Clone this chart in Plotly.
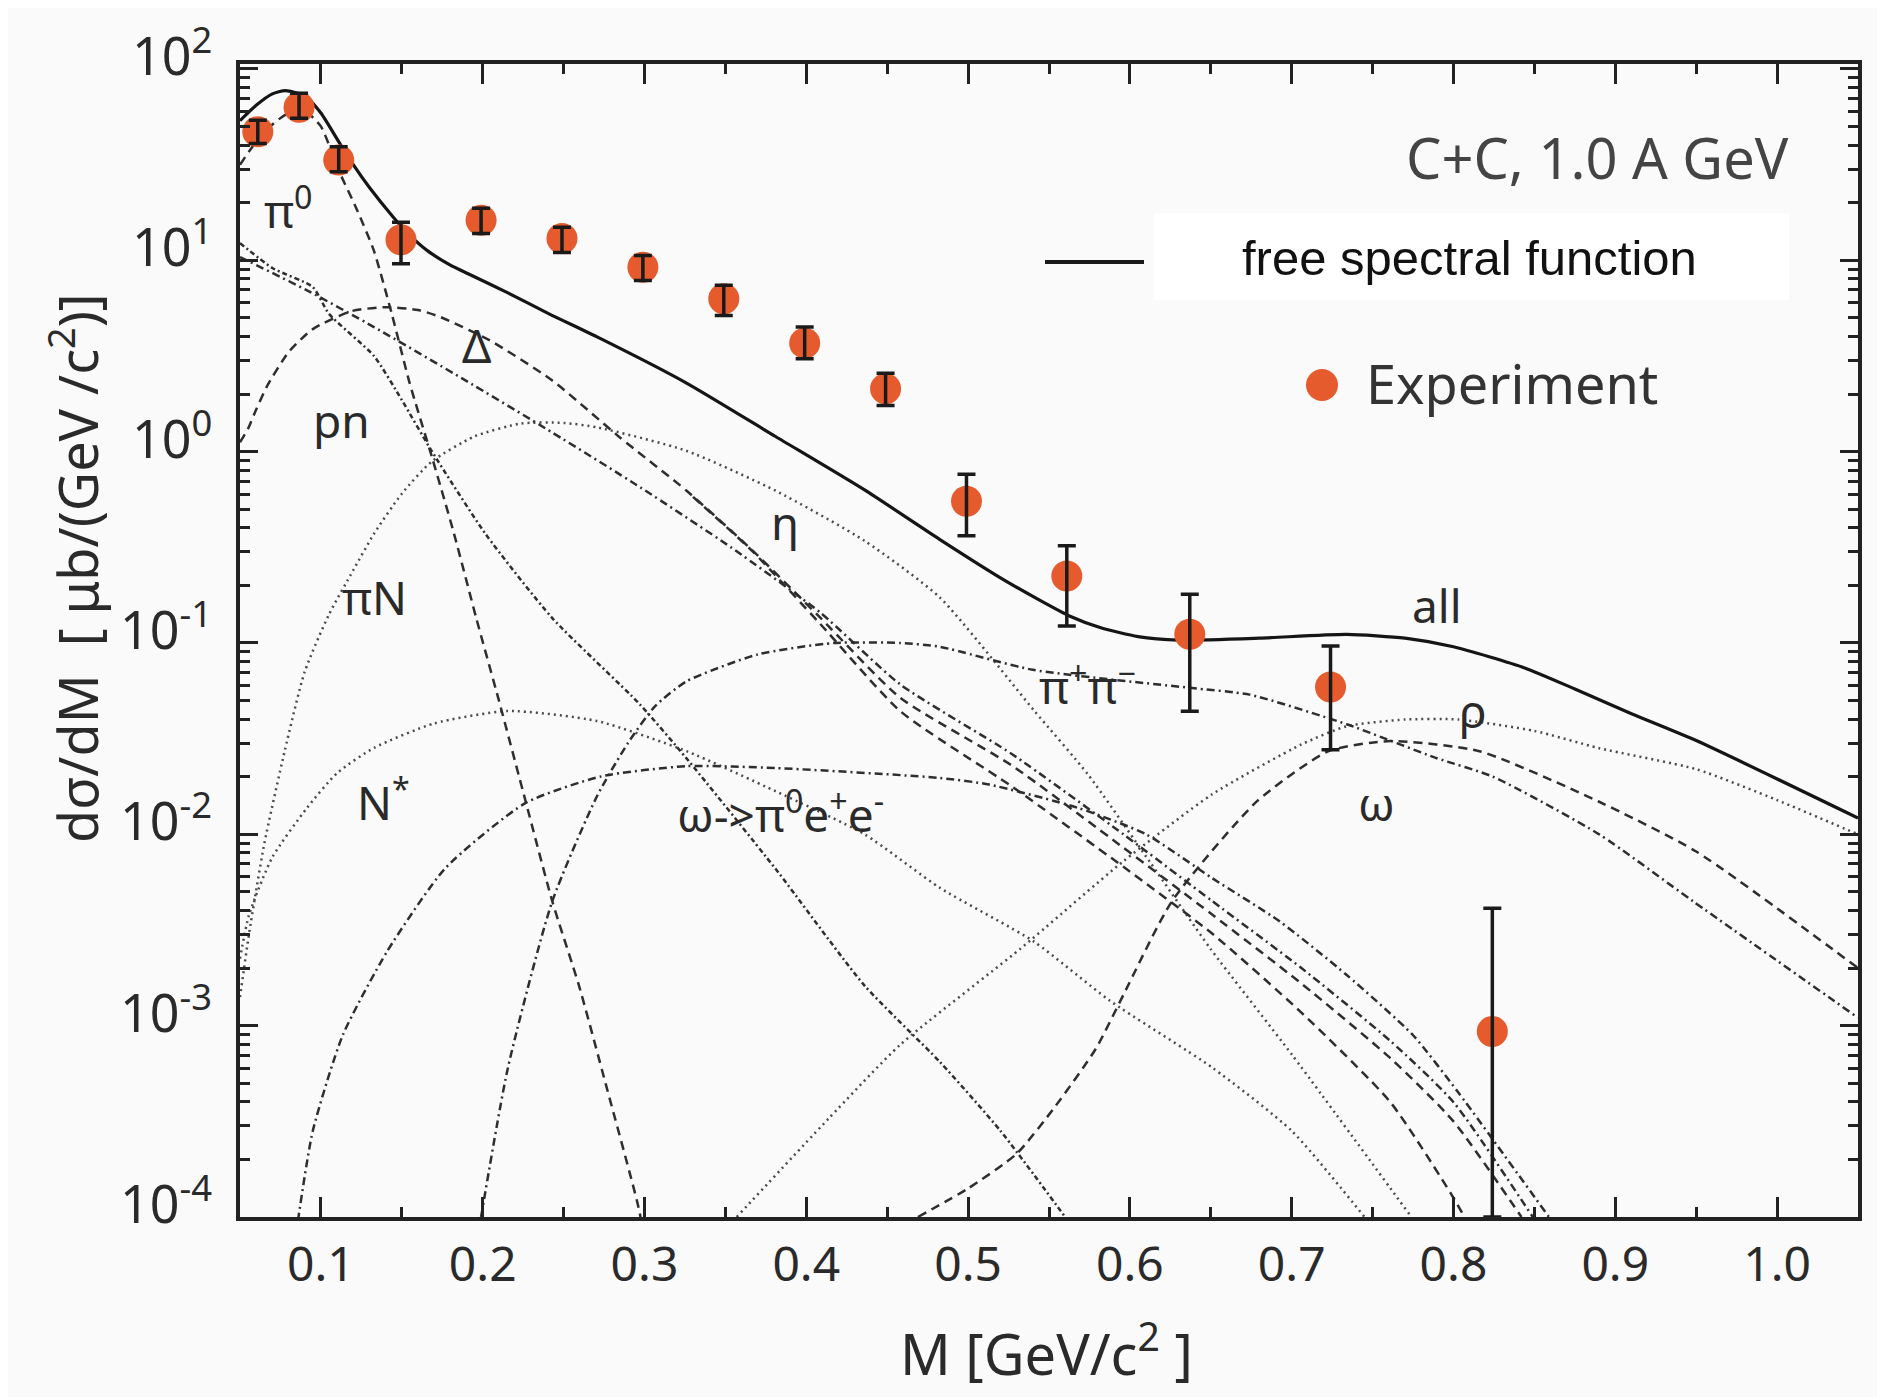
import plotly.graph_objects as go

# ---------------- axes ----------------
X_RANGE = [0.05, 1.05]
Y_LOG_RANGE = [-4, 2.026]
x_tick_vals = [0.1, 0.2, 0.3, 0.4, 0.5, 0.6, 0.7, 0.8, 0.9, 1.0]
x_tick_text = ["0.1", "0.2", "0.3", "0.4", "0.5", "0.6", "0.7", "0.8", "0.9", "1.0"]
y_tick_exponents = [-4, -3, -2, -1, 0, 1, 2]
y_tick_vals = [1e-4, 1e-3, 1e-2, 1e-1, 1e0, 1e1, 1e2]
y_tick_text = ["10<sup>-4</sup>", "10<sup>-3</sup>", "10<sup>-2</sup>", "10<sup>-1</sup>",
               "10<sup>0</sup>", "10<sup>1</sup>", "10<sup>2</sup>"]

# ---------------- experiment ----------------
exp_x = [0.061, 0.0865, 0.111, 0.1495, 0.199, 0.249, 0.299, 0.349, 0.399, 0.449,
         0.499, 0.561, 0.637, 0.724, 0.824]
exp_y = [47, 63, 33.4, 12.8, 16.2, 13.0, 9.2, 6.3, 3.69, 2.13,
         0.55, 0.224, 0.111, 0.0589, 0.000933]
exp_hi = [54, 74.6, 39.2, 15.8, 18.7, 14.9, 10.6, 7.4, 4.48, 2.57,
          0.763, 0.322, 0.18, 0.0964, 0.00411]
exp_lo = [40.8, 55.2, 29, 9.6, 13.8, 11.0, 7.85, 5.15, 3.06, 1.74,
          0.363, 0.1227, 0.044, 0.0277, 0.0001]

# ---------------- model curves ----------------
all_x = [0.05, 0.06, 0.07, 0.078, 0.09, 0.10, 0.111, 0.12, 0.13, 0.1445, 0.155, 0.166, 0.18,
         0.191, 0.2156, 0.241, 0.2707, 0.3257, 0.381, 0.436, 0.4826, 0.52, 0.545, 0.563, 0.582,
         0.605, 0.63, 0.68, 0.734, 0.77, 0.80, 0.844, 0.875, 0.91, 0.95, 1.05]
all_y = [53.7, 64.6, 74.1, 77.1, 72.4, 58.9, 41.7, 31.6, 24.0, 16.9, 13.5, 11.2, 9.44,
         8.51, 6.76, 5.25, 3.98, 2.29, 1.20, 0.631, 0.347, 0.219, 0.166, 0.138, 0.120,
         0.108, 0.1035, 0.106, 0.111, 0.106, 0.0955, 0.0741, 0.0575, 0.0427, 0.0309, 0.01216]

pi0_x = [0.05, 0.06, 0.07, 0.08, 0.09, 0.10, 0.111, 0.122, 0.1328, 0.1438, 0.1548, 0.1687,
         0.1823, 0.196, 0.21, 0.2266, 0.243, 0.2595, 0.2762, 0.2955, 0.30]
pi0_y = [31.6, 41.7, 51.3, 58.9, 60.3, 50.1, 29.5, 18.6, 11.2, 5.25, 2.29, 0.933,
         0.372, 0.135, 0.0501, 0.0148, 0.00447, 0.00162, 0.00049, 0.00012, 0.000079]

delta_x = [0.05, 0.055, 0.06, 0.0666, 0.08, 0.095, 0.119, 0.141, 0.16, 0.174, 0.2045, 0.243,
           0.2846, 0.326, 0.367, 0.4085, 0.458, 0.527, 0.596, 0.651, 0.706, 0.761, 0.80, 0.842]
delta_y = [1.12, 1.32, 1.66, 2.19, 3.31, 4.37, 5.43, 5.69, 5.50, 5.05, 3.81, 2.355,
           1.189, 0.625, 0.303, 0.136, 0.0518, 0.0229, 0.00851, 0.0038, 0.00166, 0.000676,
           0.000316, 0.0001]

delta2_x = [0.33, 0.367, 0.4085, 0.458, 0.527, 0.596, 0.651, 0.706, 0.761, 0.80, 0.81]
delta2_y = [0.58, 0.30, 0.126, 0.0441, 0.0178, 0.00676, 0.00302, 0.00117, 0.000398,
            0.000126, 0.0000891]

pn_x = [0.05, 0.0914, 0.1328, 0.1878, 0.243, 0.298, 0.3535, 0.4085, 0.458, 0.527, 0.596,
        0.651, 0.706, 0.761, 0.80, 0.849]
pn_y = [10.4, 6.97, 4.48, 2.40, 1.259, 0.646, 0.316, 0.1445, 0.0608, 0.0263, 0.01,
        0.00447, 0.002, 0.000832, 0.000398, 0.0001]

piN_x = [0.05, 0.07, 0.095, 0.105, 0.1328, 0.15, 0.1687, 0.2017, 0.243, 0.297, 0.3257,
         0.381, 0.436, 0.4826, 0.52, 0.56]
piN_y = [12.3, 9.12, 7.24, 5.25, 3.16, 1.862, 1.0, 0.372, 0.135, 0.0479, 0.0251,
         0.0066, 0.00162, 0.000646, 0.000282, 0.0001]

eta_x = [0.05, 0.0556, 0.065, 0.0776, 0.09, 0.105, 0.12, 0.1328, 0.15, 0.1687, 0.195, 0.2237,
         0.25, 0.2707, 0.3257, 0.381, 0.436, 0.4826, 0.541, 0.574, 0.612, 0.65, 0.70, 0.774]
eta_y = [0.00141, 0.00302, 0.00891, 0.0272, 0.0708, 0.141, 0.24, 0.372, 0.603, 0.891, 1.202,
         1.403, 1.413, 1.34, 1.012, 0.625, 0.342, 0.1726, 0.0441, 0.0206, 0.00724, 0.00251,
         0.000708, 0.0001]

nstar_x = [0.05, 0.0556, 0.07, 0.0914, 0.11, 0.1328, 0.17, 0.2156, 0.2707, 0.326, 0.381,
           0.436, 0.4826, 0.5407, 0.5876, 0.651, 0.70, 0.745]
nstar_y = [0.00224, 0.0038, 0.00759, 0.01374, 0.0209, 0.0283, 0.038, 0.0441, 0.0391, 0.0272,
           0.0168, 0.01, 0.00525, 0.00275, 0.00135, 0.000603, 0.000282, 0.0001]

omdal_x = [0.0858, 0.095, 0.1135, 0.141, 0.177, 0.2266, 0.2735, 0.326, 0.381, 0.4826, 0.513,
           0.568, 0.61, 0.651, 0.6925, 0.734, 0.775, 0.803, 0.859]
omdal_y = [0.0000955, 0.000282, 0.000891, 0.00245, 0.00667, 0.0146, 0.0201, 0.0227, 0.0222,
           0.0197, 0.0182, 0.01374, 0.01, 0.00589, 0.00351, 0.00184, 0.000891, 0.000447, 0.0001]

pipi_x = [0.199, 0.2156, 0.243, 0.2707, 0.29, 0.3066, 0.326, 0.37, 0.417, 0.458, 0.4826, 0.54,
          0.637, 0.674, 0.734, 0.789, 0.8244, 0.89, 0.948, 1.05]
pipi_y = [0.0001, 0.000603, 0.00447, 0.01585, 0.0302, 0.0468, 0.0631, 0.0871, 0.1, 0.1,
          0.0955, 0.0724, 0.0583, 0.0537, 0.0376, 0.0251, 0.02, 0.01, 0.00447, 0.0011]

rho_x = [0.357, 0.4138, 0.458, 0.532, 0.596, 0.651, 0.706, 0.734, 0.77, 0.803, 0.85, 0.89,
         0.95, 1.0, 1.05]
rho_y = [0.0001, 0.000327, 0.000794, 0.00251, 0.00724, 0.01622, 0.0295, 0.0367, 0.0398,
         0.0398, 0.0347, 0.0282, 0.0219, 0.0151, 0.01]

omega_x = [0.469, 0.50, 0.53, 0.554, 0.579, 0.596, 0.626, 0.6786, 0.7228, 0.761, 0.816,
           0.89, 0.95, 1.05]
omega_y = [0.0001, 0.000141, 0.000214, 0.00038, 0.000759, 0.00145, 0.00447, 0.0149, 0.0272,
           0.0307, 0.0272, 0.0148, 0.00813, 0.002]

# ---------------- styles ----------------
DASH = "9px,6px"
DASHDOT = "8px,4px,2px,4px"
FINEDASHDOT = "5px,3px,2px,3px"
DOT = "2px,4px"
CURVE_COLOR = "#2e2e2e"
DOT_COLOR = "#4a4a4a"
FONT = "Noto Sans, Open Sans, sans-serif"

fig = go.Figure()

def add_curve(x, y, dash, color=CURVE_COLOR, width=2.5):
    fig.add_trace(go.Scatter(x=x, y=y, mode="lines",
                             line=dict(color=color, width=width, dash=dash,
                                       shape="spline", smoothing=0.6),
                             hoverinfo="skip", showlegend=False))

add_curve(eta_x, eta_y, DOT, DOT_COLOR)
add_curve(nstar_x, nstar_y, DOT, DOT_COLOR)
add_curve(rho_x, rho_y, DOT, DOT_COLOR)
add_curve(pi0_x, pi0_y, DASH)
add_curve(delta_x, delta_y, DASH)
add_curve(delta2_x, delta2_y, DASH)
add_curve(omega_x, omega_y, DASH)
add_curve(pn_x, pn_y, DASHDOT)
add_curve(piN_x, piN_y, FINEDASHDOT)
add_curve(omdal_x, omdal_y, DASHDOT)
add_curve(pipi_x, pipi_y, DASHDOT)
add_curve(all_x, all_y, "solid", "#151515", 3.2)

# experiment markers, then error bars on top
fig.add_trace(go.Scatter(x=exp_x, y=exp_y, mode="markers",
                         marker=dict(color="#E55B2D", size=31, line=dict(width=0)),
                         hoverinfo="skip", showlegend=False))
fig.add_trace(go.Scatter(
    x=exp_x, y=exp_y, mode="markers",
    marker=dict(color="rgba(0,0,0,0)", size=1),
    error_y=dict(type="data", symmetric=False,
                 array=[h - v for h, v in zip(exp_hi, exp_y)],
                 arrayminus=[v - l for l, v in zip(exp_lo, exp_y)],
                 color="#1a1a1a", thickness=3.5, width=9),
    hoverinfo="skip", showlegend=False))

# ---------------- layout helpers (screen pixel -> paper) ----------------
PAGE_OFFSET = 8          # default body margin of the html page
L, R, T, B = 240, 1858, 64, 1217   # plot area on screen
FIG_W, FIG_H = 1885 - PAGE_OFFSET, 1397 - PAGE_OFFSET

def px(xf):
    return (xf - L) / (R - L)
def py(yf):
    return (B - yf) / (B - T)

annotations = []
def label(text, xf, yf, size=46, color="#2a2a2a", anchor="center", angle=0, family=FONT):
    annotations.append(dict(text=text, x=px(xf), y=py(yf), xref="paper", yref="paper",
                            xanchor=anchor, yanchor="middle", showarrow=False,
                            textangle=angle, font=dict(family=family, size=size, color=color)))

# y tick labels (drawn as annotations so they can sit slightly above their ticks)
for expo, txt in zip(y_tick_exponents, y_tick_text):
    annotations.append(dict(text=txt, x=px(214), y=expo, xref="paper", yref="y",
                            xanchor="right", yanchor="middle", yshift=17, showarrow=False,
                            font=dict(family=FONT, size=52, color="#2a2a2a")))

label("π<sup>0</sup>", 288, 208)
label("pn", 341, 420)
label("Δ", 476, 345)
label("η", 785, 522)
label("πN", 374, 597)
label("N<sup>*</sup>", 383, 800)
label("ω-&gt;π<sup>0</sup>e<sup>+</sup>e<sup>-</sup>", 780, 812)
label("π<sup>+</sup>π<sup>−</sup>", 1087, 684)
label("all", 1437, 605)
label("ρ", 1473, 710)
label("ω", 1376, 803)
label("C+C, 1.0 A GeV", 1791, 157, size=56, color="#444444", anchor="right")
label("free spectral function", 1469, 258, size=49, color="#111111",
      family="Liberation Sans, Arial, sans-serif")
label("Experiment", 1364, 383, size=54, color="#333333", anchor="left")
label("M [GeV/c<sup>2</sup> ]", 1046, 1350, size=56, color="#2a2a2a")
label("dσ/dM  [ μb/(GeV /c<sup>2</sup>)]", 74, 568, size=54, color="#2a2a2a", angle=-90)

shapes = [
    dict(type="rect", xref="paper", yref="paper", x0=px(1154), x1=px(1789), y0=py(300), y1=py(213),
         fillcolor="white", line=dict(width=0), layer="above"),
    dict(type="line", xref="paper", yref="paper", x0=px(1045), x1=px(1144), y0=py(262), y1=py(262),
         line=dict(color="#1a1a1a", width=4)),
    dict(type="circle", xref="paper", yref="paper", x0=px(1306), x1=px(1338), y0=py(401), y1=py(369),
         fillcolor="#E55B2D", line=dict(width=0)),
]

minor_y = [m * 10.0 ** k for k in range(-4, 2) for m in range(2, 10)]

axis_common = dict(showline=True, linewidth=4, linecolor="#222222", mirror="ticks",
                   ticks="inside", tickwidth=3, tickcolor="#222222", showgrid=False,
                   zeroline=False, automargin=False)

fig.update_layout(
    width=FIG_W, height=FIG_H, autosize=False,
    margin=dict(l=L - PAGE_OFFSET, r=FIG_W - (R - PAGE_OFFSET),
                t=T - PAGE_OFFSET, b=FIG_H - (B - PAGE_OFFSET)),
    paper_bgcolor="#fafafa", plot_bgcolor="#fafafa",
    showlegend=False,
    xaxis=dict(range=X_RANGE, tickmode="array", tickvals=x_tick_vals, ticktext=x_tick_text,
               ticklen=20, ticklabelstandoff=2,
               tickfont=dict(family=FONT, size=48, color="#2a2a2a"),
               minor=dict(ticks="inside", ticklen=10, tickwidth=3, tickcolor="#222222",
                          dtick=0.05, tick0=0.05, showgrid=False),
               **axis_common),
    yaxis=dict(type="log", range=Y_LOG_RANGE, tickmode="array", tickvals=y_tick_vals,
               showticklabels=False, ticklen=18,
               minor=dict(ticks="inside", ticklen=10, tickwidth=3, tickcolor="#222222",
                          tickmode="array", tickvals=minor_y, showgrid=False),
               **axis_common),
    annotations=annotations,
    shapes=shapes,
)

fig.write_html("out.html")
